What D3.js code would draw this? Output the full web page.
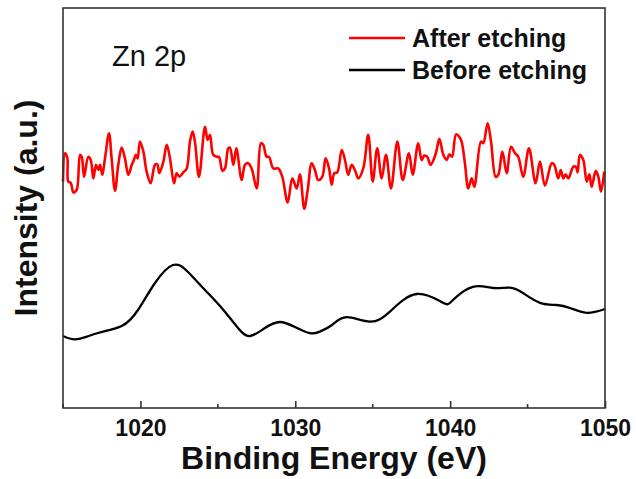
<!DOCTYPE html>
<html lang="en">
<head>
  <meta charset="UTF-8">
  <title>Zn 2p XPS</title>
  <script src="https://d3js.org/d3.v7.min.js"></script>
  <style>
    body {
      margin: 0;
      background: #fff;
      font-family: "Liberation Sans", Arial, sans-serif;
    }
  </style>
</head>
<body>
<svg id="chart" width="636" height="479"></svg>

<script>
// x ticks
const majorTicks = [1020, 1030, 1040, 1050];
const minorTicks = [1015, 1025, 1035, 1045];

// After etching (red)
const afterE = [1015.0, 1015.13, 1015.28, 1015.34, 1015.5, 1015.67, 1015.88, 1016.1, 1016.21, 1016.36,
  1016.63, 1016.79, 1016.96, 1017.13, 1017.28, 1017.39, 1017.54, 1017.71, 1017.97, 1018.14,
  1018.36, 1018.57, 1018.79, 1019.0, 1019.22, 1019.44, 1019.58, 1019.71, 1019.82, 1019.97,
  1020.19, 1020.4, 1020.66, 1020.94, 1021.09, 1021.22, 1021.48, 1021.7, 1021.91, 1022.17,
  1022.34, 1022.51, 1022.77, 1022.99, 1023.2, 1023.37, 1023.52, 1023.78, 1024.17, 1024.34,
  1024.49, 1024.7, 1024.92, 1025.07, 1025.29, 1025.46, 1025.67, 1025.78, 1026.0, 1026.19,
  1026.54, 1026.75, 1026.96, 1027.18, 1027.51, 1027.78, 1027.93, 1028.15, 1028.3, 1028.58,
  1028.9, 1029.16, 1029.51, 1029.81, 1030.09, 1030.3, 1030.58, 1030.8, 1031.06, 1031.27,
  1031.48, 1031.74, 1031.96, 1032.18, 1032.35, 1032.52, 1032.71, 1033.0, 1033.21, 1033.42,
  1033.64, 1033.85, 1034.07, 1034.39, 1034.71, 1035.0, 1035.29, 1035.58, 1035.86, 1036.18,
  1036.59, 1036.94, 1037.34, 1037.58, 1037.94, 1038.16, 1038.33, 1038.52, 1038.74, 1039.08,
  1039.3, 1039.56, 1039.78, 1039.94, 1040.12, 1040.38, 1040.59, 1040.74, 1040.96, 1041.17,
  1041.39, 1041.56, 1041.99, 1042.14, 1042.42, 1042.64, 1042.94, 1043.11, 1043.37, 1043.65,
  1043.93, 1044.19, 1044.4, 1044.72, 1045.09, 1045.52, 1045.8, 1046.12, 1046.56, 1046.72,
  1046.98, 1047.14, 1047.31, 1047.46, 1047.63, 1047.95, 1048.12, 1048.23, 1048.38, 1048.6,
  1048.82, 1048.99, 1049.14, 1049.4, 1049.57, 1049.74, 1049.95];
const afterI = [56.6, 63.7, 62.5, 56.6, 56.3, 53.9, 54.5, 63.3, 62.8, 57.8,
  62.8, 62.0, 57.4, 60.8, 59.5, 60.8, 58.3, 62.4, 68.7, 62.4,
  54.3, 60.8, 65.1, 62.4, 58.3, 60.8, 62.0, 63.3, 62.4, 66.6,
  64.1, 59.1, 56.2, 60.8, 60.9, 58.7, 61.6, 65.8, 62.4, 56.2,
  58.7, 57.8, 58.9, 59.9, 66.6, 69.1, 66.6, 57.8, 70.3, 67.0,
  68.3, 63.3, 62.8, 62.8, 59.3, 59.9, 64.9, 65.1, 60.8, 64.9,
  57.0, 60.8, 61.2, 59.9, 54.9, 66.2, 65.8, 62.8, 62.8, 59.9,
  59.9, 57.8, 51.4, 57.4, 54.9, 58.4, 49.8, 54.5, 61.2, 59.5,
  57.0, 57.8, 62.4, 59.9, 55.8, 58.7, 58.9, 64.5, 62.0, 58.3,
  60.8, 59.5, 57.4, 59.9, 68.3, 56.6, 64.9, 57.4, 63.3, 54.9,
  66.6, 57.0, 63.7, 58.3, 66.2, 62.0, 63.1, 62.8, 60.8, 63.7,
  67.3, 63.3, 62.0, 63.4, 62.8, 68.4, 67.8, 66.6, 61.0, 54.9,
  57.4, 55.3, 66.6, 66.2, 71.2, 66.6, 57.8, 58.3, 64.1, 58.7,
  65.3, 63.7, 62.8, 57.8, 64.9, 56.2, 61.6, 55.6, 61.2, 60.8,
  57.4, 59.5, 57.4, 58.4, 57.4, 60.3, 60.3, 58.9, 63.3, 62.0,
  56.6, 58.4, 55.3, 59.3, 57.8, 54.1, 59.1];

// Before etching (black)
const beforeE = [1015.0, 1015.9, 1017.26, 1018.79, 1019.84, 1020.94, 1022.1, 1023.07, 1024.17, 1025.25,
  1026.3, 1027.08, 1028.04, 1029.01, 1029.98, 1030.95, 1031.59, 1032.37, 1033.32, 1034.82,
  1036.11, 1037.84, 1039.54, 1040.18, 1041.47, 1042.77, 1043.86, 1044.7, 1045.8, 1046.88,
  1047.74, 1048.82, 1050.0];
const beforeI = [18.0, 17.2, 18.75, 20.5, 24.5, 31.25, 35.75, 34.0, 29.5, 25.0,
  20.0, 18.0, 20.0, 21.5, 20.25, 18.7, 19.1, 20.75, 22.7, 21.6,
  24.1, 28.5, 26.3, 27.0, 30.3, 30.0, 30.1, 28.75, 26.3, 25.75,
  25.0, 23.8, 24.75];

const svg = d3.select("#chart");
const margin = { top: 8, right: 31, bottom: 71, left: 63 };
const width = 636, height = 479;

const x = d3.scaleLinear()
  .domain([1015, 1050])
  .range([margin.left, width - margin.right]);

const y = d3.scaleLinear()
  .domain([0, 100])
  .range([height - margin.bottom, margin.top]);

const afterData = afterE.map((e, i) => ({ e, v: afterI[i] }));
const beforeData = beforeE.map((e, i) => ({ e, v: beforeI[i] }));

const line = d3.line()
  .x(d => x(d.e))
  .y(d => y(d.v));

// curves
svg.append("path")
  .datum(beforeData)
  .attr("fill", "none")
  .attr("stroke", "#000")
  .attr("stroke-width", 2.3)
  .attr("d", line.curve(d3.curveNatural));

svg.append("path")
  .datum(afterData)
  .attr("fill", "none")
  .attr("stroke", "#f00")
  .attr("stroke-width", 2.6)
  .attr("stroke-linejoin", "round")
  .attr("d", line.curve(d3.curveCatmullRom.alpha(0.5)));

// frame
svg.append("rect")
  .attr("x", margin.left)
  .attr("y", margin.top)
  .attr("width", width - margin.right - margin.left)
  .attr("height", height - margin.bottom - margin.top)
  .attr("fill", "none")
  .attr("stroke", "#333")
  .attr("stroke-width", 1.6);

// x axis, ticks pointing inward
const xAxis = svg.append("g")
  .attr("transform", `translate(0,${height - margin.bottom})`)
  .call(d3.axisBottom(x).tickValues(majorTicks).tickSize(-7).tickPadding(12).tickFormat(d3.format("d")));
xAxis.select(".domain").remove();
xAxis.selectAll("line").attr("stroke", "#333").attr("stroke-width", 1.6);
xAxis.selectAll("text")
  .attr("font-family", "'Liberation Sans', Arial, sans-serif")
  .attr("font-size", 23)
  .attr("font-weight", "bold")
  .attr("fill", "#111");

svg.append("g")
  .attr("transform", `translate(0,${height - margin.bottom})`)
  .selectAll("line")
  .data(minorTicks)
  .enter()
  .append("line")
  .attr("x1", d => x(d))
  .attr("x2", d => x(d))
  .attr("y1", 0)
  .attr("y2", -4)
  .attr("stroke", "#333")
  .attr("stroke-width", 1.6);

// axis titles
svg.append("text")
  .attr("x", (margin.left + width - margin.right) / 2)
  .attr("y", 469)
  .attr("text-anchor", "middle")
  .attr("font-size", 32)
  .attr("font-weight", "bold")
  .attr("fill", "#111")
  .text("Binding Energy (eV)");

svg.append("text")
  .attr("transform", `translate(37,${(margin.top + height - margin.bottom) / 2}) rotate(-90)`)
  .attr("text-anchor", "middle")
  .attr("font-size", 32)
  .attr("font-weight", "bold")
  .attr("fill", "#111")
  .text("Intensity (a.u.)");

// panel label
svg.append("text")
  .attr("x", 112)
  .attr("y", 66)
  .attr("font-size", 29)
  .attr("fill", "#111")
  .text("Zn 2p");

// legend
const legend = [
  { name: "After etching", color: "#f00", y: 38 },
  { name: "Before etching", color: "#000", y: 70 }
];
const lg = svg.append("g");
lg.selectAll("line")
  .data(legend)
  .enter()
  .append("line")
  .attr("x1", 349)
  .attr("x2", 405)
  .attr("y1", d => d.y)
  .attr("y2", d => d.y)
  .attr("stroke", d => d.color)
  .attr("stroke-width", 2.4);
lg.selectAll("text")
  .data(legend)
  .enter()
  .append("text")
  .attr("x", 412)
  .attr("y", d => d.y + 9)
  .attr("font-size", 25)
  .attr("font-weight", "bold")
  .attr("fill", "#111")
  .text(d => d.name);
</script>
</body>
</html>
